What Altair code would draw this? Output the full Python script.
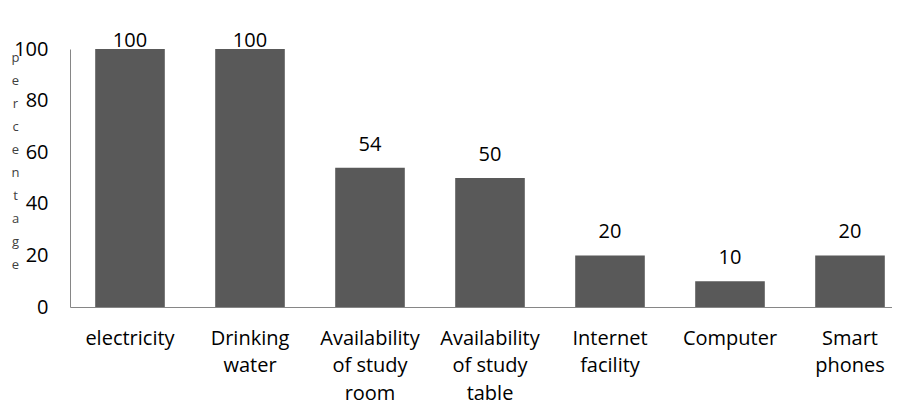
import altair as alt
import pandas as pd

categories = ["electricity", "Drinking\nwater", "Availability\nof study\nroom",
              "Availability\nof study\ntable", "Internet\nfacility", "Computer", "Smart\nphones"]
values = [100, 100, 54, 50, 20, 10, 20]
y_ticks = [0, 20, 40, 60, 80, 100]
y_title_letters = list("percentage")

df = pd.DataFrame({"category": categories, "value": values})

FONT = "Open Sans"
AXIS_GREY = "#868686"
BAR = "#595959"

x_scale = alt.Scale(range=[0, 840], paddingInner=0.42, paddingOuter=0.21)
x_axis = alt.Axis(title=None, labelAngle=0, labelExpr="split(datum.label, '\\n')",
                  labelFont=FONT, labelFontSize=20, labelColor="black",
                  labelPadding=21, labelLineHeight=27.5, labelBaseline="top",
                  ticks=False, domainColor=AXIS_GREY, labelOverlap=False)

y_scale = alt.Scale(domain=[0, 100], nice=False)
y_axis = alt.Axis(values=y_ticks, grid=False, ticks=False, domainColor=AXIS_GREY,
                  labelFont=FONT, labelFontSize=20, labelColor="black", labelPadding=22,
                  title=y_title_letters, titleAngle=0, titleAlign="center", titleBaseline="top",
                  titleX=-55, titleY=2, titleFont=FONT, titleFontSize=13,
                  titleFontWeight="normal", titleLineHeight=23, titleColor="#404040")

bars = alt.Chart(df).mark_bar(color=BAR).encode(
    x=alt.X("category:N", sort=None, scale=x_scale, axis=x_axis),
    y=alt.Y("value:Q", scale=y_scale, axis=y_axis),
)

labels = alt.Chart(df).transform_calculate(
    label_y="min(datum.value, 94)"
).mark_text(dy=-23, fontSize=20, font=FONT, color="black").encode(
    x=alt.X("category:N", sort=None),
    y=alt.Y("label_y:Q", scale=y_scale),
    text=alt.Text("value:Q"),
)

chart = (bars + labels).properties(
    width=822, height=258, autosize="none", background="white",
    padding={"left": 62, "top": 41, "right": 0, "bottom": 100},
).configure_view(strokeWidth=0)

chart.save("out.html", embed_options={"renderer": "svg", "actions": False})
